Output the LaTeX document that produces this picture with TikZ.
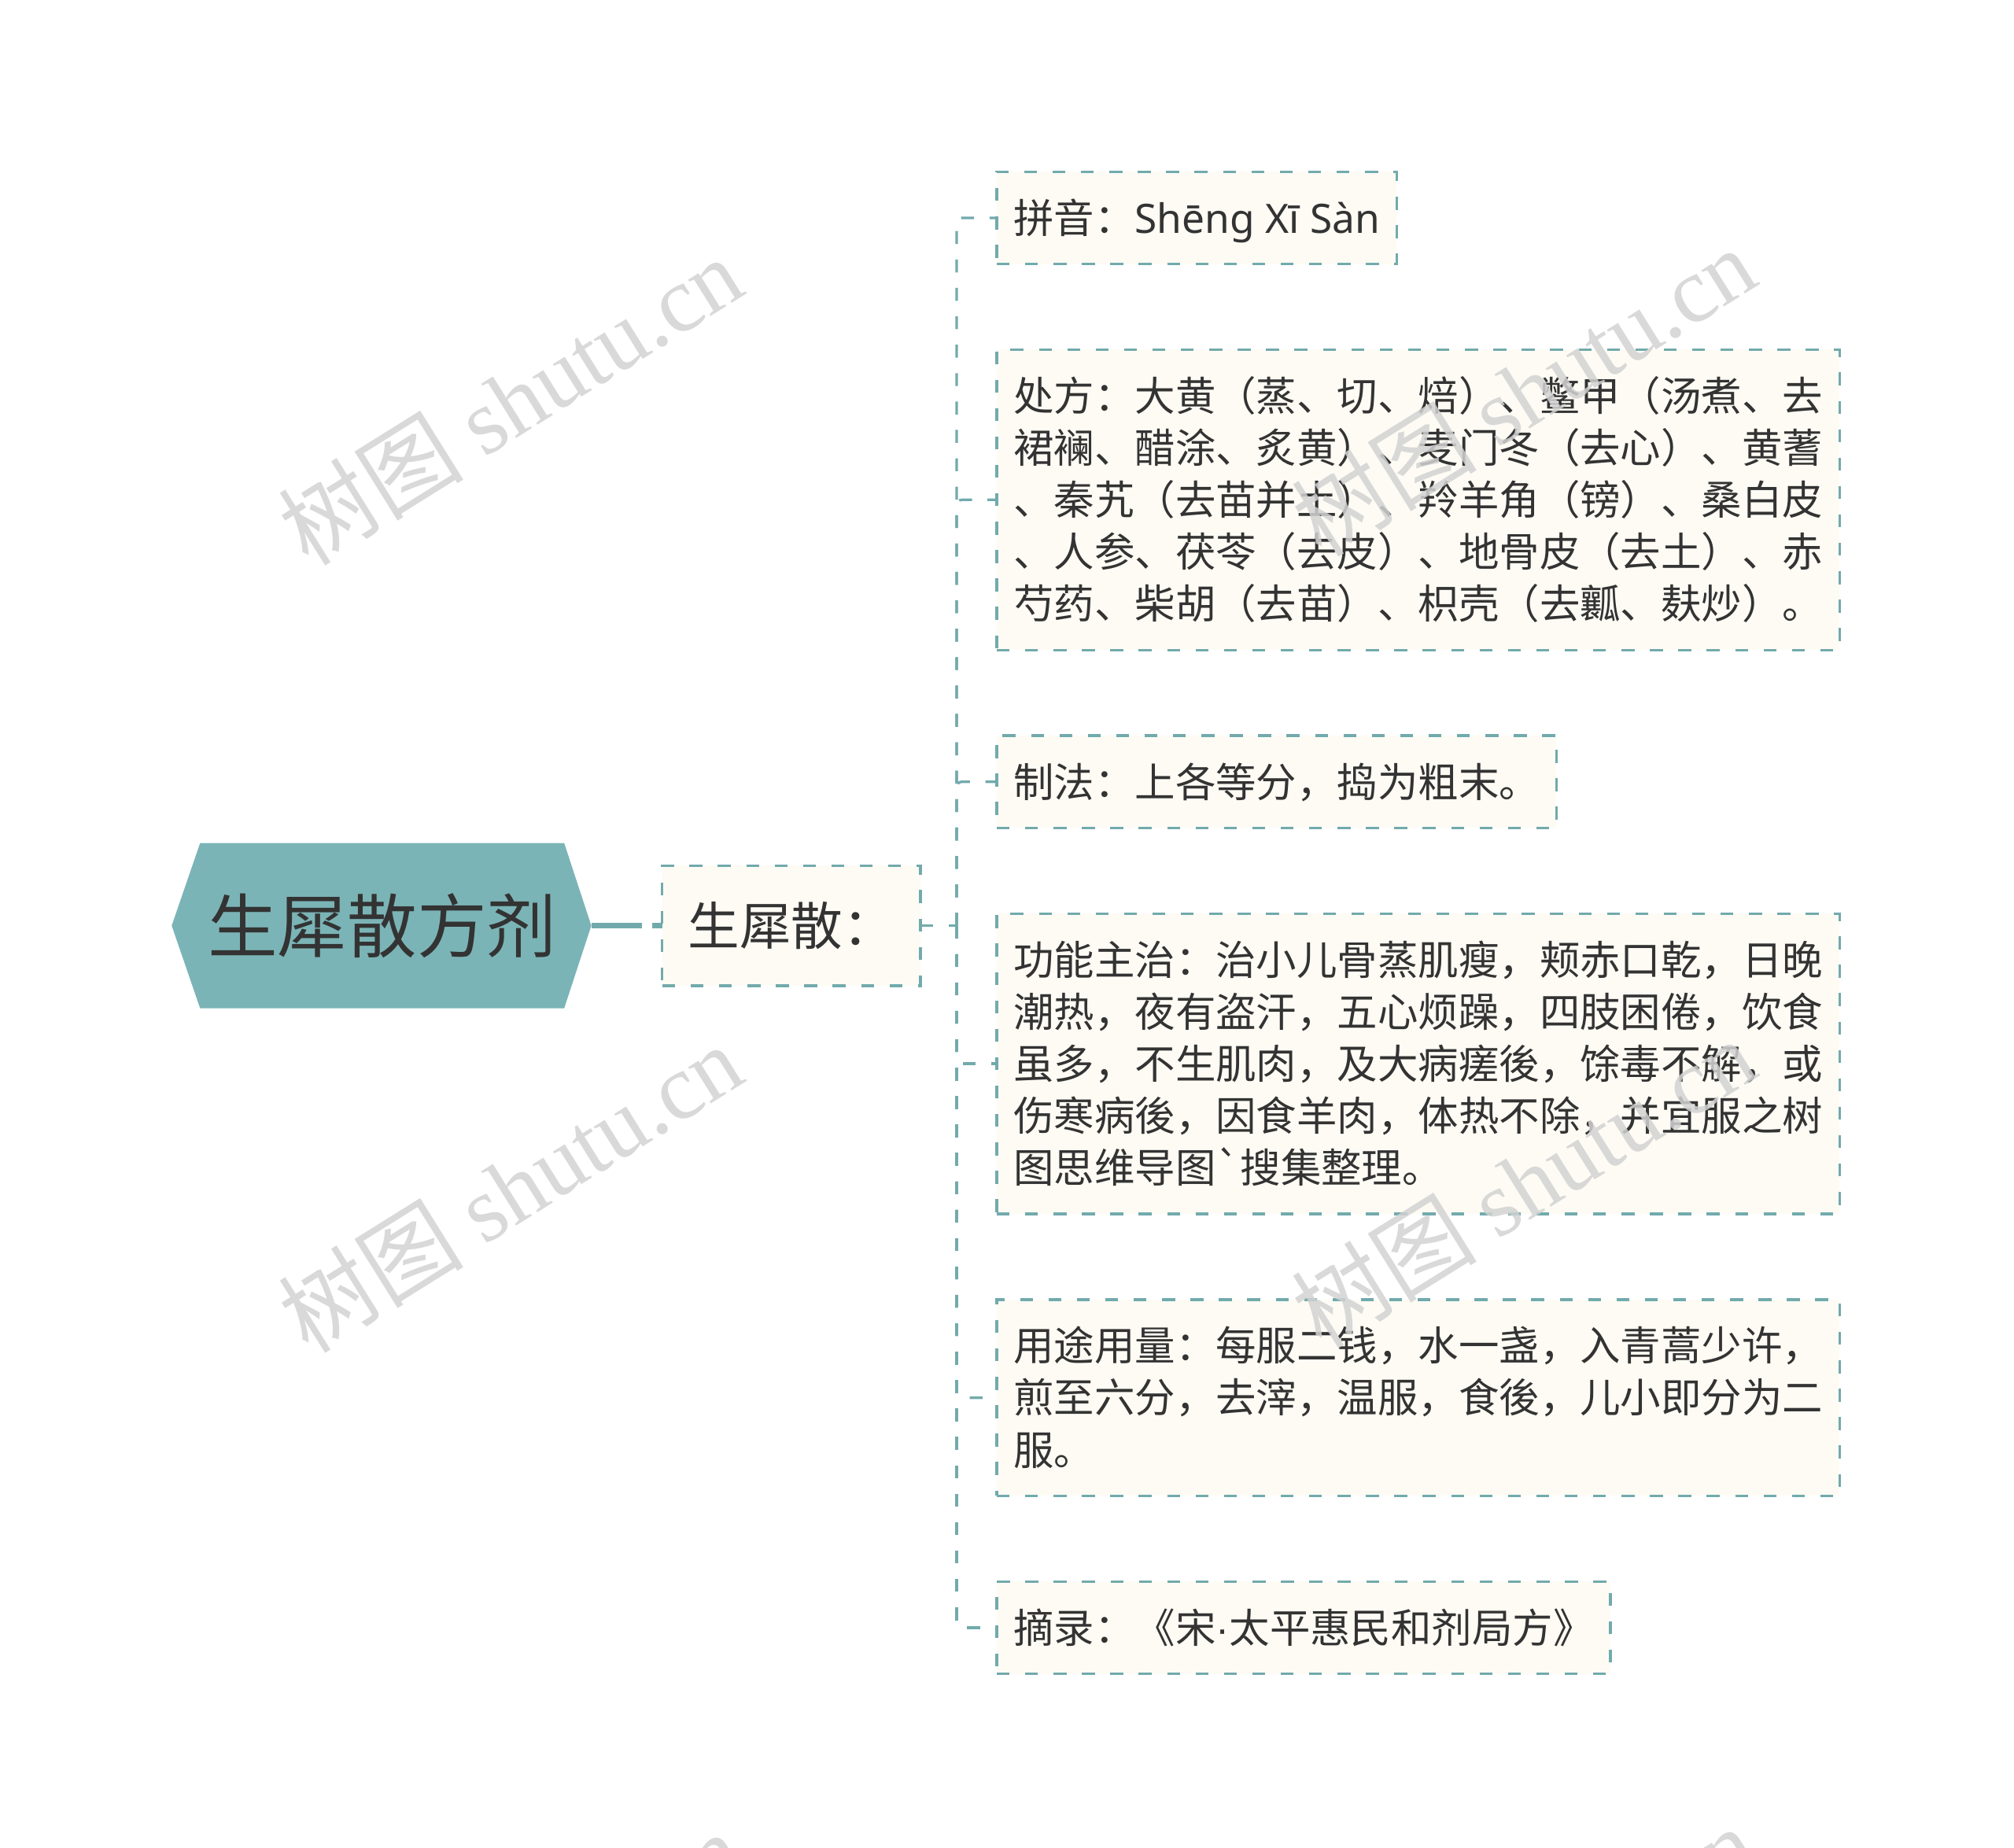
\documentclass[tikz,border=0pt]{standalone}
\usepackage{fontspec}
\setmainfont{Noto Sans CJK SC}
\newfontfamily\wmlatin{Liberation Serif}
\newfontfamily\dotfont{Liberation Sans}
\newfontfamily\pinyinfont{Noto Sans}
\font\gravefont="Noto Sans CJK SC" at 31.35pt
\usetikzlibrary{positioning,backgrounds}

\definecolor{tealfill}{HTML}{7BB4B6}
\definecolor{tealline}{HTML}{72AAAC}
\definecolor{creamfill}{HTML}{FDFBF4}
\definecolor{inktext}{HTML}{333333}
\definecolor{wmgray}{HTML}{D2D2D2}

% one line of leaf text
\newcommand{\ls}{\rule[-8.4pt]{0pt}{40.3pt}}

\tikzset{
  rootbox/.style={minimum width=282pt, minimum height=128pt, inner sep=0pt, outer sep=0pt,
    text=inktext, font=\fontsize{54}{60}\selectfont, text height=47.5pt, text depth=6.5pt},
  sanbox/.style={draw=tealline, fill=creamfill, line width=2pt, dash pattern=on 10pt off 12pt,
    inner xsep=20pt, inner ysep=20.5pt, outer sep=0pt, text=inktext, font=\fontsize{40}{52}\selectfont,
    text height=41.2pt, text depth=10.8pt},
  leaf/.style={draw=tealline, fill=creamfill, line width=2pt, dash pattern=on 10pt off 12pt,
    inner xsep=13pt, inner ysep=15.6pt, outer sep=0pt, align=left, text=inktext,
    font=\fontsize{31.35}{40.3}\selectfont},
  branch/.style={draw=tealline, line width=2pt, dash pattern=on 10pt off 12pt, rounded corners=4pt},
  trunk/.style={draw=tealline, line width=4pt, dash pattern=on 39pt off 8pt on 8pt off 20pt},
  watermark/.style={rotate=32, text=wmgray, opacity=0.85, font=\fontsize{72}{80}\selectfont}
}

\begin{document}
\begin{tikzpicture}[x=1pt,y=-1pt]
\useasboundingbox (0,0) rectangle (1560,1431);

% root
\node[rootbox] (root) at (296,717) {生犀散方剂};
\begin{scope}[on background layer]
\fill[tealfill] (root.north west) -- (root.north east) -- ([xshift=21pt]root.east)
  -- (root.south east) -- (root.south west) -- ([xshift=-22pt]root.west) -- cycle;
\end{scope}
\coordinate (roottip) at ([xshift=21pt]root.east);

% main topic
\node[sanbox, right=76pt of root] (san) {生犀散：};
\coordinate (hub) at ([xshift=28pt]san.east);

% leaves
\node[leaf, anchor=north west] (pinyin) at (772,133) {\ls 拼音：{\pinyinfont Shēng Xī Sàn}};
\node[leaf, below right=66.3pt and 0pt of pinyin.south west] (chufang) {%
\ls 处方：大黄（蒸、切、焙）、鳖甲（汤煮、去\\
\ls 裙襕、醋涂、炙黄）、麦门冬（去心）、黄蓍\\
\ls 、秦艽（去苗并土）、羚羊角（镑）、桑白皮\\
\ls 、人参、茯苓（去皮）、地骨皮（去土）、赤\\
\ls 芍药、柴胡（去苗）、枳壳（去瓤、麸炒）。};
\node[leaf, below right=66.3pt and 0pt of chufang.south west] (zhifa) {\ls 制法：上各等分，捣为粗末。};
\node[leaf, below right=66.3pt and 0pt of zhifa.south west] (gongneng) {%
\ls 功能主治：治小儿骨蒸肌瘦，颊赤口乾，日晚\\
\ls 潮热，夜有盗汗，五心烦躁，四肢困倦，饮食\\
\ls 虽多，不生肌肉，及大病瘥後，馀毒不解，或\\
\ls 伤寒病後，因食羊肉，体热不除，并宜服之树\\
\ls 图思维导图{\gravefont`}搜集整理。};
\node[leaf, below right=66.3pt and 0pt of gongneng.south west] (yongtu) {%
\ls 用途用量：每服二钱，水一盏，入青蒿少许，\\
\ls 煎至六分，去滓，温服，食後，儿小即分为二\\
\ls 服。};
\node[leaf, below right=66.3pt and 0pt of yongtu.south west] (zhailu) {\ls 摘录：《宋{\dotfont ·}太平惠民和剂局方》};

% connectors
\draw[trunk] (roottip) -- (san.west);
\draw[branch] (san.east) -- (hub);
\foreach \leafname in {pinyin,chufang,zhifa,gongneng,yongtu,zhailu}
  \draw[branch] (hub) |- (\leafname.west);

% watermarks
\foreach \wx/\wy [count=\wi] in {395/310, 395/920, 1180/303, 1180/916, 395/1530, 1180/1526}
  \node[watermark] (wm\wi) at (\wx,\wy) {树图 {\wmlatin shutu.cn}};

\end{tikzpicture}
\end{document}
